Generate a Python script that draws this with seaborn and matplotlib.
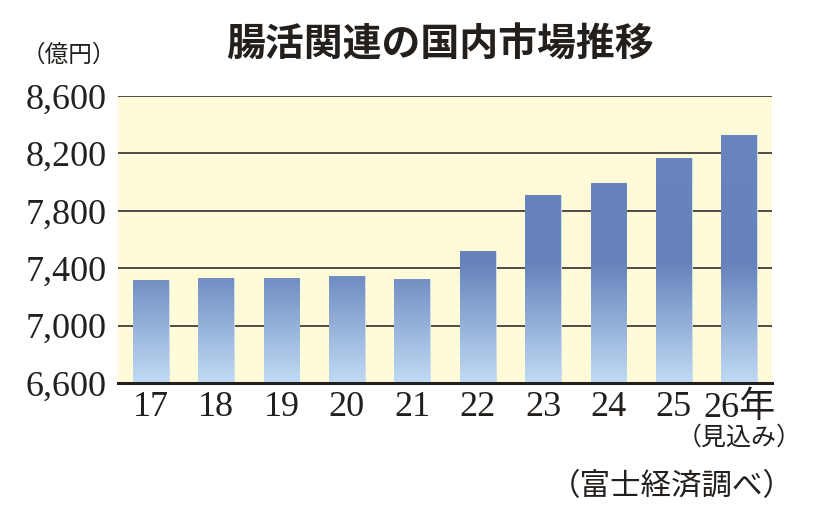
import numpy as np
import pandas as pd
import matplotlib
matplotlib.use("Agg")
import matplotlib.pyplot as plt
import seaborn as sns
from matplotlib.colors import LinearSegmentedColormap

years = ["17", "18", "19", "20", "21", "22", "23", "24", "25", "26年"]
sales = [7320, 7335, 7330, 7345, 7326, 7520, 7912, 7996, 8166, 8328]
yticks = [6600, 7000, 7400, 7800, 8200, 8600]
ytick_labels = ["6,600", "7,000", "7,400", "7,800", "8,200", "8,600"]

title = "腸活関連の国内市場推移"
unit = "（億円）"
note_last = "（見込み）"
source = "（富士経済調べ）"

sns.set_theme(style="white")
jp = ["Noto Sans CJK JP", "DejaVu Sans"]
serif = ["Liberation Serif", "Noto Sans CJK JP"]

df = pd.DataFrame({"year": years, "sales": sales})

fig = plt.figure(figsize=(8.2, 5.3), dpi=100)
ax = fig.add_axes([118 / 820, 1 - 383 / 530, 654 / 820, 287 / 530])
ax.set_facecolor("#fffbd8")

for y in yticks[1:]:
    ax.axhline(y, color="#4f4b46", lw=1.4, zorder=1)

sns.barplot(data=df, x="year", y="sales", color="#6784bc", width=0.55,
            edgecolor="#d6e2f2", linewidth=0.6, ax=ax, zorder=2)

ax.set_xlim(-0.5, len(years) - 0.5)
ax.set_ylim(6600, 8600)

# vertical gradient inside each bar (light at the base)
cmap = LinearSegmentedColormap.from_list(
    "bar", [(0.0, "#c0dbf4"), (0.42, "#6582bb"), (1.0, "#6a86be")])
grad = np.linspace(0, 1, 256).reshape(-1, 1)
for p in ax.patches:
    im = ax.imshow(grad, cmap=cmap, aspect="auto", origin="lower",
                   extent=[-0.5, len(years) - 0.5, 6600, 8600],
                   zorder=2.5)
    im.set_clip_path(p)
ax.set_xlim(-0.5, len(years) - 0.5)
ax.set_ylim(6600, 8600)

for s in ["left", "right", "top"]:
    ax.spines[s].set_visible(False)
ax.spines["bottom"].set_color("#231f1c")
ax.spines["bottom"].set_linewidth(2.2)
ax.spines["bottom"].set_zorder(5)

ax.set_yticks(yticks)
ax.set_yticklabels(ytick_labels, family=serif, fontsize=26, color="#231f1c")
ax.tick_params(axis="y", length=0, pad=8)
ax.set_xticks(range(len(years)))
ax.set_xticklabels(years, family=serif, fontsize=26, color="#231f1c")
ax.tick_params(axis="x", length=0, pad=6)
ax.set_xlabel("")
ax.set_ylabel("")

fig.text(0.536, 0.915, title, family=jp, fontsize=28, fontweight="bold",
         color="#231f1c", ha="center", va="center")
fig.text(69 / 820, 1 - 55 / 530, unit, family=jp, fontsize=17,
         color="#231f1c", ha="center", va="center")
fig.text(739 / 820, 1 - 438 / 530, note_last, family=jp, fontsize=18,
         color="#231f1c", ha="center", va="center")
fig.text(672 / 820, 1 - 487 / 530, source, family=jp, fontsize=22,
         color="#231f1c", ha="center", va="center")

fig.savefig("out.png", dpi=100)
